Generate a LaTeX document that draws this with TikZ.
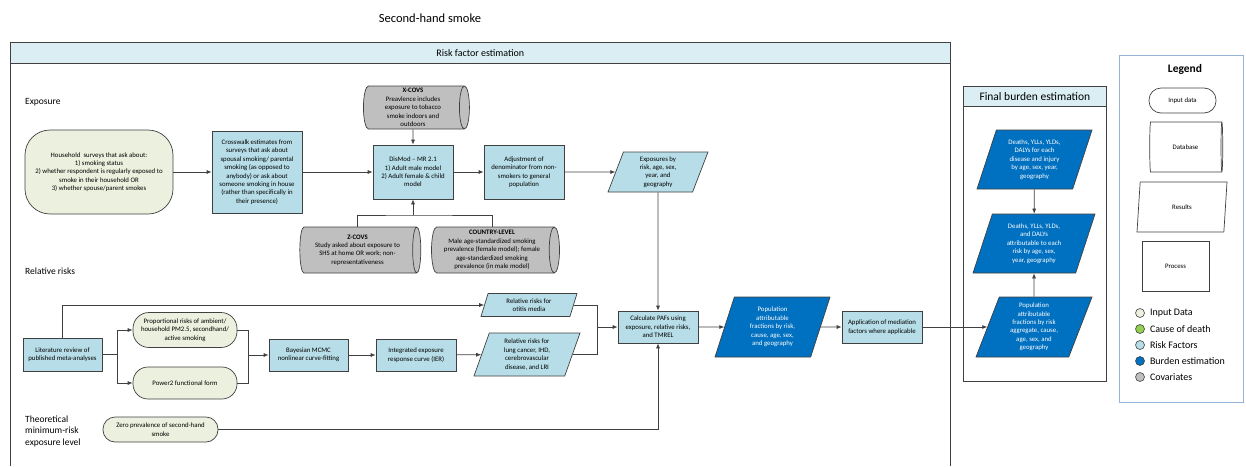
\documentclass[tikz,border=0pt]{standalone}
\usepackage{fontspec}
\setmainfont{Carlito}
\usetikzlibrary{arrows.meta,positioning,calc,shapes.geometric}

\definecolor{inputfill}{HTML}{EBF1DE}
\definecolor{riskfill}{HTML}{B7DEE8}
\definecolor{burdenfill}{HTML}{0070C0}
\definecolor{covfill}{HTML}{BFBFBF}
\definecolor{causefill}{HTML}{92D050}
\definecolor{headfill}{HTML}{DAEEF3}
\definecolor{linegray}{HTML}{404040}
\definecolor{legendline}{HTML}{95B3D7}

\newcommand{\boxfont}{\fontsize{6.8}{8.4}\selectfont}

\begin{document}
\begin{tikzpicture}[x=1pt,y=-1pt,
  base/.style={draw=linegray,line width=0.7pt,align=center,font=\boxfont,inner sep=1pt},
  inputbox/.style={base,fill=inputfill,rounded corners=12pt},
  riskbox/.style={base,fill=riskfill},
  result/.style={base,trapezium,trapezium left angle=65,trapezium right angle=115,
    trapezium stretches body,fill=riskfill},
  burden/.style={result,fill=burdenfill,text=white},
  covbox/.style={base,cylinder,aspect=0.25,fill=covfill},
  header/.style={draw=linegray,line width=0.7pt,fill=headfill,anchor=north west,inner sep=0pt},
  sectlabel/.style={font=\fontsize{9.5}{11.5}\selectfont,anchor=west,align=left,inner sep=0pt},
  dot/.style={circle,draw=linegray,line width=0.6pt,minimum size=9,inner sep=0pt},
  keytext/.style={font=\fontsize{10}{12}\selectfont,inner sep=0pt},
  link/.style={line width=0.7pt,draw=linegray},
  arr/.style={link,-{Latex[length=5pt,width=4pt]}}
]
\useasboundingbox (0,0) rectangle (1246,466);

\node[font=\fontsize{12.5}{15}\selectfont] (title) at (430,18) {Second-hand smoke};

% risk factor estimation frame
\draw[link] (10,466) |- (950,42) -- (950,466);
\node[header,minimum width=940,minimum height=21,font=\fontsize{10}{12}\selectfont]
  (riskhead) at (10,42) {Risk factor estimation};

% exposure
\node[sectlabel] (lblexpo) at (25,102) {Exposure};
\node[inputbox,rounded corners=25pt,minimum width=148,minimum height=84] (household) at (99,172)
  {Household\ \ surveys that ask about:\\1) smoking status\\2) whether respondent is regularly exposed to\\smoke in their household OR\\3) whether spouse/parent smokes};
\node[riskbox,minimum width=90,minimum height=82] (crosswalk) at (257,172)
  {Crosswalk estimates from\\surveys that ask about\\spousal smoking/ parental\\smoking (as opposed to\\anybody) or ask about\\someone smoking in house\\(rather than specifically in\\their presence)};
\node[covbox,minimum height=106,minimum width=43] (xcovs) at (413,107.5)
  {\textbf{X-COVS}\\Preavlence includes\\exposure to tobacco\\smoke indoors and\\outdoors};
\node[riskbox,minimum width=80,minimum height=54] (dismod) at (413,172)
  {DisMod -- MR 2.1\\1) Adult male model\\2) Adult female \& child\\model};
\node[riskbox,minimum width=80,minimum height=54] (adjust) at (524,172)
  {Adjustment of\\denominator from non-\\smokers to general\\population};
\node[result,minimum width=100,minimum height=40] (expo) at (658,172)
  {Exposures by\\risk, age, sex,\\year, and\\geography};
\node[covbox,minimum height=121,minimum width=46] (zcovs) at (357.5,250)
  {\textbf{Z-COVS}\\Study asked about exposure to\\SHS at home OR work; non-\\representativeness};
\node[covbox,minimum height=128,minimum width=46] (country) at (492,250)
  {\textbf{COUNTRY-LEVEL}\\Male age-standardized smoking\\prevalence (female model); female\\age-standardized smoking\\prevalence (in male model)};
\coordinate (covjoin) at (413,215);

% relative risks
\node[sectlabel] (lblrr) at (25,271) {Relative risks};
\node[riskbox,minimum width=79,minimum height=33] (litreview) at (62.5,354.5)
  {Literature review of\\published meta-analyses};
\node[inputbox,rounded corners=16pt,minimum width=104,minimum height=35] (propisk) at (185,330)
  {Proportional risks of ambient/\\household PM2.5, secondhand/\\active smoking};
\node[inputbox,rounded corners=15pt,minimum width=104,minimum height=32] (power) at (185,383)
  {Power2 functional form};
\node[riskbox,minimum width=79,minimum height=32] (bayes) at (308.5,355)
  {Bayesian MCMC\\nonlinear curve-fitting};
\node[riskbox,minimum width=80,minimum height=32] (ier) at (416,355)
  {Integrated exposure\\response curve (IER)};
\node[result,minimum width=96,minimum height=23] (otitis) at (529,305)
  {Relative risks for\\otitis media};
\node[result,minimum width=106,minimum height=43] (lung) at (527,354.5)
  {Relative risks for\\lung cancer, IHD,\\cerebrovascular\\disease, and LRI};
\node[riskbox,minimum width=80,minimum height=32] (calc) at (658,327)
  {Calculate PAFs using\\exposure, relative risks,\\and TMREL};
\node[burden,minimum width=115,minimum height=60] (paf) at (772.5,327)
  {Population\\attributable\\fractions by risk,\\cause, age, sex,\\and geography};
\node[riskbox,minimum width=80,minimum height=32] (mediation) at (882,327)
  {Application of mediation\\factors where applicable};
\coordinate (litsplit) at (117,354.5);
\coordinate (mcmcjoin) at (248,355);
\coordinate (rrjoin) at (597,327);

% tmrel
\node[sectlabel] (lbltmrel) at (25,431) {Theoretical\\minimum-risk\\exposure level};
\node[inputbox,rounded corners=12pt,minimum width=115,minimum height=25] (zero) at (160.5,429.5)
  {Zero prevalence of second-hand\\smoke};

% final burden estimation
\node[draw=linegray,line width=0.7pt,anchor=north west,minimum width=143,minimum height=295,inner sep=0pt]
  (finalbox) at (963,86) {};
\node[header,minimum width=143,minimum height=20,font=\fontsize{11.5}{13}\selectfont]
  (finalhead) at (963,86) {Final burden estimation};
\node[burden,minimum width=115,minimum height=59] (fdeath) at (1034.5,159.5)
  {Deaths, YLLs, YLDs,\\DALYs for each\\disease and injury\\by age, sex, year,\\geography};
\node[burden,minimum width=122,minimum height=59] (fattr) at (1034,243.5)
  {Deaths, YLLs, YLDs,\\and DALYs\\attributable to each\\risk by age, sex,\\year, geography};
\node[burden,minimum width=116,minimum height=60] (fpaf) at (1034,327)
  {Population\\attributable\\fractions by risk\\aggregate, cause,\\age, sex, and\\geography};

% legend
\node[draw=legendline,line width=0.9pt,anchor=north west,minimum width=124,minimum height=347,inner sep=0pt]
  (legendbox) at (1119,55) {};
\node[font=\fontsize{11.5}{13}\selectfont\bfseries] (legendtitle) at (1185,69) {Legend};
\node[base,fill=white,rounded corners=12pt,minimum width=67,minimum height=25] (linput) at (1182.5,100.5) {Input data};
\node[covbox,fill=white,minimum height=73,minimum width=50] (ldb) at (1185.5,147) {Database};
\node[result,fill=white,minimum width=90,minimum height=50] (lres) at (1182,207) {Results};
\node[base,fill=white,minimum width=67,minimum height=50] (lproc) at (1175.5,266) {Process};
\foreach \col/\txt [count=\i from 0] in {inputfill/Input Data,causefill/Cause of death,
    riskfill/Risk Factors,burdenfill/Burden estimation,covfill/Covariates}{
  \node[dot,fill=\col] (dot\i) at (1140,313+16*\i) {};
  \node[keytext,right=5pt of dot\i] (key\i) {\txt};
}

% connectors
\draw[arr] (household) -- (crosswalk);
\draw[arr] (crosswalk) -- (dismod);
\draw[arr] (xcovs) -- (dismod);
\draw[arr] (dismod) -- (adjust);
\draw[arr] (adjust) -- (expo);
\draw[link] (zcovs.north) |- (covjoin) -| (country.north);
\draw[arr] (covjoin) -- (dismod);
\draw[arr] (expo) -- (calc);
\draw[arr] (litreview.north) |- (otitis);
\draw[link] (litreview) -- (litsplit);
\draw[arr] (litsplit) |- (propisk);
\draw[arr] (litsplit) |- (power);
\draw[link] (propisk) -| (mcmcjoin);
\draw[link] (power) -| (mcmcjoin);
\draw[arr] (mcmcjoin) -- (bayes);
\draw[arr] (bayes) -- (ier);
\draw[arr] (ier) -- (lung);
\draw[link] (otitis) -| (rrjoin);
\draw[link] (lung) -| (rrjoin);
\draw[arr] (rrjoin) -- (calc);
\draw[arr] (zero) -| (calc);
\draw[arr] (calc) -- (paf);
\draw[arr] (paf) -- (mediation);
\draw[arr] (mediation) -- (fpaf);
\draw[arr] (fdeath) -- (fattr);
\draw[arr] (fpaf) -- (fattr);
\end{tikzpicture}
\end{document}
